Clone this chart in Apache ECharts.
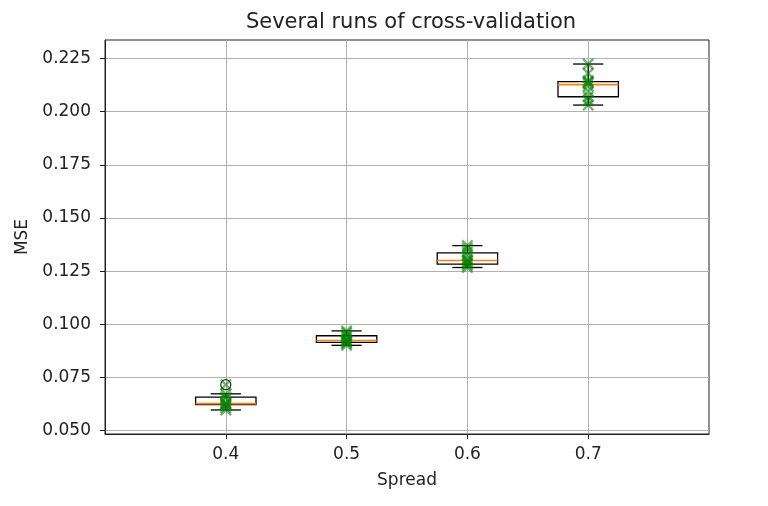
<!DOCTYPE html>
<html>
<head>
<meta charset="utf-8">
<script src="https://cdn.jsdelivr.net/npm/echarts@6/dist/echarts.min.js"></script>
<style>
  html, body { margin: 0; padding: 0; background: #fff; }
  #chart { width: 768px; height: 506px; }
</style>
</head>
<body>
<div id="chart"></div>
<script>
// spread values (x positions of the boxes)
var spreads = [0.4, 0.5, 0.6, 0.7]
// box stats per spread: [min, q1, median, q3, max]
var boxStats = [
  [0.0597, 0.0622, 0.0627, 0.0657, 0.0673],
  [0.0901, 0.0915, 0.0924, 0.0946, 0.0969],
  [0.1267, 0.1283, 0.1300, 0.1336, 0.1370],
  [0.2031, 0.2070, 0.2127, 0.2141, 0.2224]
]
// outliers (fliers) [spread, value]
var outliers = [[0.4, 0.0716]]
// individual cross-validation runs
var runs04 = [0.0597, 0.0608, 0.0619, 0.0624, 0.0627, 0.0630, 0.0650, 0.0659, 0.0673, 0.0716]
var runs05 = [0.0901, 0.0910, 0.0916, 0.0920, 0.0924, 0.0928, 0.0940, 0.0948, 0.0960, 0.0969]
var runs06 = [0.1267, 0.1278, 0.1285, 0.1293, 0.1300, 0.1306, 0.1325, 0.1340, 0.1358, 0.1370]
var runs07 = [0.2031, 0.2052, 0.2070, 0.2095, 0.2120, 0.2133, 0.2139, 0.2145, 0.2180, 0.2224]
var runs = [runs04, runs05, runs06, runs07]
// tick labels
var xTicks = [0.4, 0.5, 0.6, 0.7]
var yTicks = [0.050, 0.075, 0.100, 0.125, 0.150, 0.175, 0.200, 0.225]

var boxData = spreads.map(function (s, i) { return [s].concat(boxStats[i]) })
var pointData = []
spreads.forEach(function (s, i) {
  runs[i].forEach(function (v) { pointData.push([s, v]) })
})

var xSymbol = 'path://M0,1.4L1.4,0L5,3.6L8.6,0L10,1.4L6.4,5L10,8.6L8.6,10L5,6.4L1.4,10L0,8.6L3.6,5Z'
var font = 'DejaVu Sans'

function renderBox(params, api) {
  var x = api.value(0)
  var pMin = api.coord([x, api.value(1)])
  var pQ1 = api.coord([x, api.value(2)])
  var pMed = api.coord([x, api.value(3)])
  var pQ3 = api.coord([x, api.value(4)])
  var pMax = api.coord([x, api.value(5)])
  var w = api.size([0.05, 0])[0]
  var cx = pMed[0]
  var black = { stroke: '#000', lineWidth: 1.3 }
  return {
    type: 'group',
    children: [
      { type: 'line', shape: { x1: cx, y1: pQ3[1], x2: cx, y2: pMax[1] }, style: black },
      { type: 'line', shape: { x1: cx, y1: pQ1[1], x2: cx, y2: pMin[1] }, style: black },
      { type: 'line', shape: { x1: cx - w / 4, y1: pMax[1], x2: cx + w / 4, y2: pMax[1] }, style: black },
      { type: 'line', shape: { x1: cx - w / 4, y1: pMin[1], x2: cx + w / 4, y2: pMin[1] }, style: black },
      { type: 'rect', shape: { x: cx - w / 2, y: pQ3[1], width: w, height: pQ1[1] - pQ3[1] },
        style: { fill: 'rgba(255,255,255,0)', stroke: '#000', lineWidth: 1.3 } },
      { type: 'line', shape: { x1: cx - w / 2, y1: pMed[1], x2: cx + w / 2, y2: pMed[1] },
        style: { stroke: '#ff7f0e', lineWidth: 1.6 } }
    ]
  }
}

var chart = echarts.init(document.getElementById('chart'))
chart.setOption({
  backgroundColor: '#fff',
  animation: false,
  title: {
    text: 'Several runs of cross-validation',
    left: 406, top: 7, textAlign: 'center',
    textStyle: { fontFamily: font, fontSize: 21, fontWeight: 'normal', color: '#222' }
  },
  grid: {
    left: 105, right: 59, top: 40, bottom: 72,
    show: true, borderColor: '#222', borderWidth: 1, backgroundColor: 'transparent'
  },
  xAxis: {
    type: 'value', min: 0.3, max: 0.8,
    name: 'Spread', nameLocation: 'middle', nameGap: 38,
    nameTextStyle: { fontFamily: font, fontSize: 17, color: '#222' },
    axisLine: { show: true, lineStyle: { color: '#222' } },
    axisTick: { show: true, length: 5, customValues: xTicks, lineStyle: { color: '#222' } },
    axisLabel: {
      customValues: xTicks, margin: 12,
      fontFamily: font, fontSize: 17, color: '#222',
      formatter: function (v) { return v.toFixed(1) }
    },
    splitLine: { show: true, lineStyle: { color: '#b0b0b0', width: 1 } }
  },
  yAxis: {
    type: 'value', min: 0.0484, max: 0.2337,
    name: 'MSE', nameLocation: 'middle', nameGap: 74,
    nameTextStyle: { fontFamily: font, fontSize: 17, color: '#222' },
    axisLine: { show: true, lineStyle: { color: '#222' } },
    axisTick: { show: true, length: 5, customValues: yTicks, lineStyle: { color: '#222' } },
    axisLabel: {
      customValues: yTicks, margin: 14,
      fontFamily: font, fontSize: 17, color: '#222',
      formatter: function (v) { return v.toFixed(3) }
    },
    splitLine: { show: true, lineStyle: { color: '#b0b0b0', width: 1 } }
  },
  series: [
    {
      type: 'custom', name: 'box', data: boxData, renderItem: renderBox,
      encode: { x: 0, y: [1, 2, 3, 4, 5] }, z: 3
    },
    {
      type: 'scatter', name: 'outliers', data: outliers,
      symbol: 'circle', symbolSize: 10,
      itemStyle: { color: 'rgba(255,255,255,0)', borderColor: '#000', borderWidth: 1.3 }, z: 4
    },
    {
      type: 'scatter', name: 'runs', data: pointData,
      symbol: xSymbol, symbolSize: 12,
      itemStyle: { color: 'rgba(0,128,0,0.7)' }, z: 5
    }
  ]
})
</script>
</body>
</html>
